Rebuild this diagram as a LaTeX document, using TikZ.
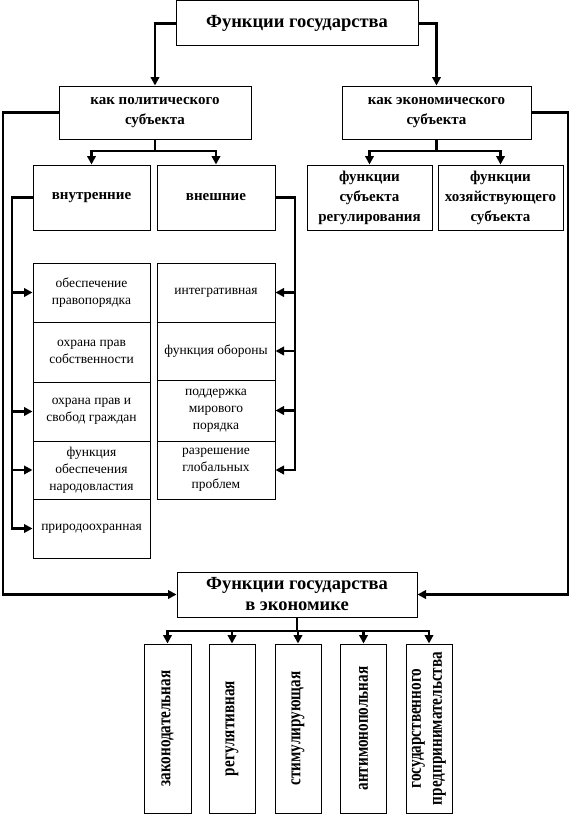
\documentclass[tikz,border=0pt]{standalone}
\usepackage{fontspec}
\setmainfont{Liberation Serif}
\newfontfamily\condfont{Liberation Serif}[FakeStretch=0.8]
\usetikzlibrary{arrows.meta}
\begin{document}
\begin{tikzpicture}[x=1pt,y=-1pt,
  box/.style={draw, line width=1pt, align=center, inner sep=1pt, font=\fontsize{13.5}{17}\selectfont},
  hbox/.style={box, font=\bfseries\fontsize{15}{20}\selectfont},
  tbox/.style={box, font=\bfseries\fontsize{18.5}{21}\selectfont},
  vbox/.style={box, rotate=90, minimum width=169pt, minimum height=46pt, font=\condfont\bfseries\fontsize{19}{21}\selectfont},
  wire/.style={line width=2.1pt, line join=miter},
  arr/.style={wire, -{Triangle[length=8.5pt,width=8.5pt]}}]
\fill[white] (0,0) rectangle (572,816);
\useasboundingbox (0,0) rectangle (572,816);

\node[tbox, minimum width=242pt, minimum height=45pt] (top) at (297,23.5) {Функции государства};
\node[hbox, minimum width=192pt, minimum height=53pt] (pol) at (155,112.5) {как политического\\субъекта};
\node[hbox, minimum width=189pt, minimum height=53pt] (eco) at (436.5,112.5) {как экономического\\субъекта};

\node[hbox, minimum width=117pt, minimum height=65pt] (vin) at (91.5,197.5) {внутренние};
\node[hbox, minimum width=118pt, minimum height=65pt] (vne) at (216,197.5) {внешние};
\node[hbox, minimum width=125pt, minimum height=65pt] (reg) at (369.5,197.5) {функции\\субъекта\\регулирования};
\node[hbox, minimum width=125pt, minimum height=65pt] (hoz) at (500.5,197.5) {функции\\хозяйствующего\\субъекта};

\node[box, minimum width=117pt, minimum height=59pt] (l1) at (91.5,292.5) {обеспечение\\правопорядка};
\node[box, minimum width=117pt, minimum height=60pt] (l2) at (91.5,352) {охрана прав\\собственности};
\node[box, minimum width=117pt, minimum height=59pt] (l3) at (91.5,411.5) {охрана прав и\\свобод граждан};
\node[box, minimum width=117pt, minimum height=58pt] (l4) at (91.5,470) {функция\\обеспечения\\народовластия};
\node[box, minimum width=117pt, minimum height=59pt] (l5) at (91.5,528.5) {природоохранная};

\node[box, minimum width=118pt, minimum height=59pt] (r1) at (216,292.5) {интегративная};
\node[box, minimum width=118pt, minimum height=58pt] (r2) at (216,351) {функция обороны};
\node[box, minimum width=118pt, minimum height=61pt] (r3) at (216,410.5) {поддержка\\мирового\\порядка};
\node[box, minimum width=118pt, minimum height=58pt] (r4) at (216,470) {разрешение\\глобальных\\проблем};

\node[tbox, minimum width=240pt, minimum height=45pt] (ecm) at (297,594.5) {Функции государства\\в экономике};

\node[vbox, minimum height=47pt] (b1) at (167.5,728.5) {законодательная};
\node[vbox] (b2) at (232,728.5) {регулятивная};
\node[vbox] (b3) at (298,728.5) {стимулирующая};
\node[vbox] (b4) at (363.5,728.5) {антимонопольная};
\node[vbox] (b5) at (429,728.5) {государственного\\предпринимательства};

\draw[arr] (top.west) -| (pol.north);
\draw[arr] (top.east) -| (eco.north);

\coordinate (pj) at (155,151);
\draw[wire] (pol.south) -- (pj);
\draw[arr] (pj) -| (vin.north);
\draw[arr] (pj) -| (vne.north);
\coordinate (ej) at (436.5,151);
\draw[wire] (eco.south) -- (ej);
\draw[arr] (ej) -| (reg.north);
\draw[arr] (ej) -| (hoz.north);

\coordinate (lo) at (3,112.5);
\draw[arr] (pol.west) -- (lo) |- (ecm.west);
\coordinate (ro) at (568,112.5);
\draw[arr] (eco.east) -- (ro) |- (ecm.east);

\coordinate (lb) at (12,197.5);
\draw[arr] (vin.west) -- (lb) |- (l5.west);
\foreach \n in {l1,l3,l4} \draw[arr] (lb |- \n.west) -- (\n.west);
\coordinate (rb) at (295,197.5);
\draw[arr] (vne.east) -- (rb) |- (r4.east);
\foreach \n in {r1,r2,r3} \draw[arr] (rb |- \n.east) -- (\n.east);

\coordinate (bj) at (297,631);
\draw[wire] (ecm.south) -- (bj);
\foreach \n in {b1,b2,b3,b4,b5} \draw[arr] (bj) -| (\n.east);
\end{tikzpicture}
\end{document}
